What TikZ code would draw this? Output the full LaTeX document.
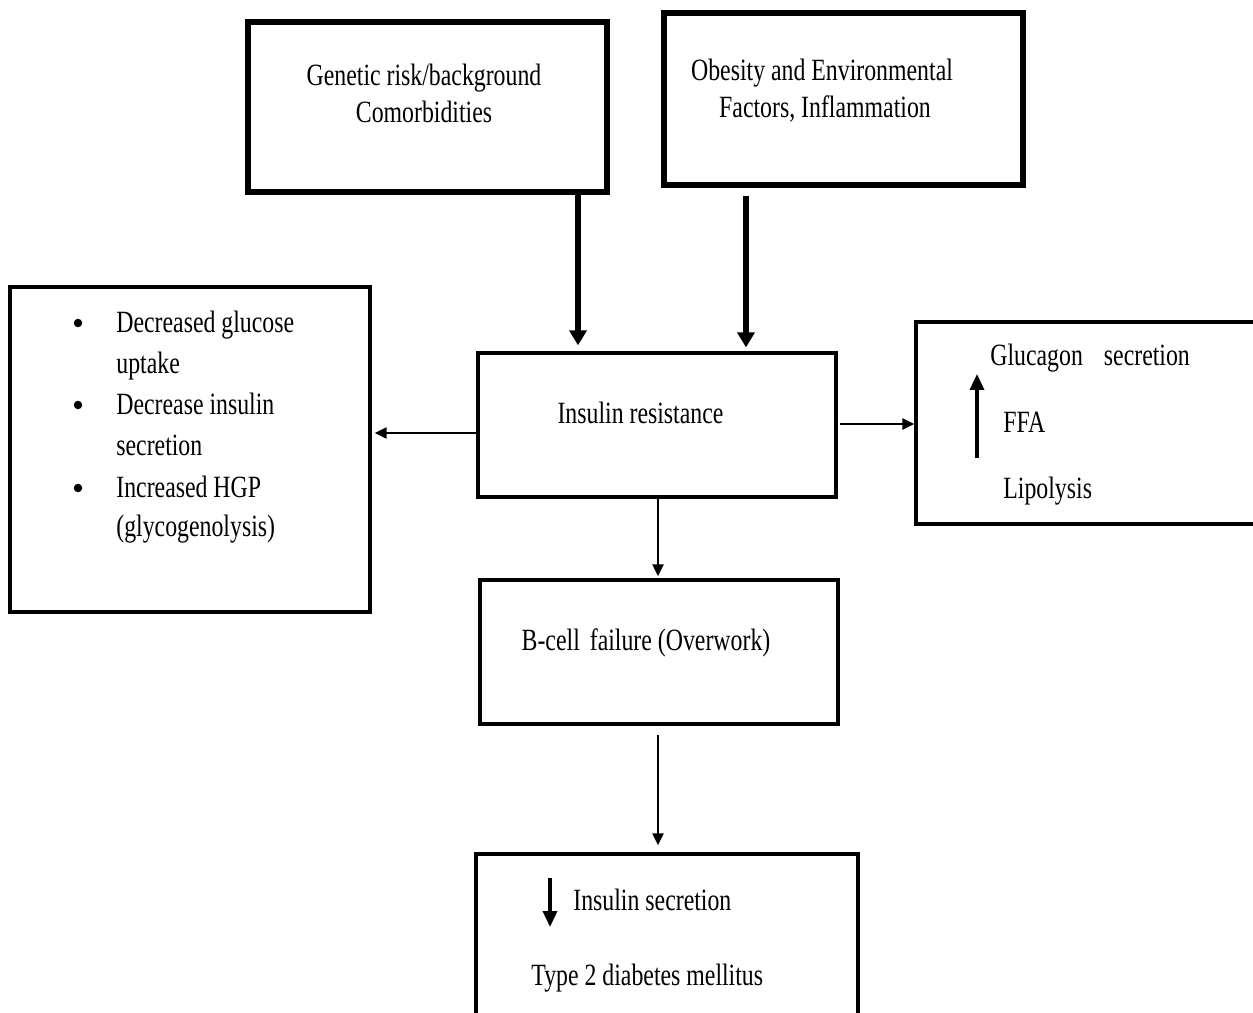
\documentclass[tikz,border=0pt]{standalone}
\usepackage{fontspec}
\setmainfont{Liberation Serif}[FakeStretch=0.77]
\usetikzlibrary{arrows.meta}
\begin{document}
\begin{tikzpicture}[x=0.02cm,y=-0.02cm,
  thickbox/.style={draw, rectangle, inner sep=0pt, line width=2.9pt},
  thinbox/.style={draw, rectangle, inner sep=0pt, line width=1.9pt},
  txt/.style={inner sep=0pt, font=\fontsize{17.6}{21}\selectfont, text=black},
  bul/.style={circle, fill=black, inner sep=0pt, minimum size=0.17cm},
  bigarrow/.style={line width=3.4pt, -{Triangle[length=0.3cm,width=0.34cm]}},
  thinarrow/.style={line width=1.2pt, -{Triangle[length=0.24cm,width=0.22cm]}},
  midarrow/.style={line width=2pt, -{Triangle[length=0.32cm,width=0.28cm]}}
]
\clip (0,0) rectangle (1253,1013);
\fill[white] (0,0) rectangle (1253,1013);

% boxes
\node[thickbox, minimum width=7.18cm, minimum height=3.40cm] (gen) at (427.5,107) {};
\node[thickbox, minimum width=7.18cm, minimum height=3.44cm] (obe) at (843.5,99) {};
\node[thinbox, minimum width=7.20cm, minimum height=6.50cm] (left) at (190,449.5) {};
\node[thinbox, minimum width=7.16cm, minimum height=2.88cm] (ir) at (657,425) {};
\node[thinbox, minimum width=7.08cm, minimum height=4.04cm] (right) at (1093,423) {};
\node[thinbox, minimum width=7.16cm, minimum height=2.88cm] (bc) at (659,652) {};
\node[thinbox, minimum width=7.64cm, minimum height=3.72cm] (t2) at (667,947) {};

% texts
\node[txt, anchor=base] (gen1) at (424,86) {Genetic risk/background};
\node[txt, anchor=base] (gen2) at (424,123) {Comorbidities};
\node[txt, anchor=base] (obe1) at (822,81) {Obesity and Environmental};
\node[txt, anchor=base] (obe2) at (825,118) {Factors, Inflammation};

\node[bul] (b1) at (78,323) {};
\node[txt, anchor=base west] (l1) at (116,332) {Decreased glucose};
\node[txt, anchor=base west] (l2) at (116,373) {uptake};
\node[bul] (b2) at (78,405) {};
\node[txt, anchor=base west] (l3) at (116,414) {Decrease insulin};
\node[txt, anchor=base west] (l4) at (116,455) {secretion};
\node[bul] (b3) at (78,488) {};
\node[txt, anchor=base west] (l5) at (116,497) {Increased HGP};
\node[txt, anchor=base west] (l6) at (116,536) {(glycogenolysis)};

\node[txt, anchor=base] (irt) at (640.5,423) {Insulin resistance};

\node[txt, anchor=base west] (r1) at (990,365) {Glucagon\hspace{0.42cm}secretion};
\node[txt, anchor=base west] (r2) at (1003,432) {FFA};
\node[txt, anchor=base west] (r3) at (1003,498) {Lipolysis};
\coordinate (upS) at (977,458);
\coordinate (upE) at (977,374);
\draw[midarrow] (upS) -- (upE);

\node[txt, anchor=base] (bct) at (646,650) {B-cell\hspace{0.2cm}failure (Overwork)};

\node[txt, anchor=base west] (t21) at (573,910) {Insulin secretion};
\node[txt, anchor=base west] (t22) at (531,985) {Type 2 diabetes mellitus};
\coordinate (dnS) at (550,878);
\coordinate (dnE) at (550,927);
\draw[midarrow] (dnS) -- (dnE);

% connectors
\coordinate (ax1) at (578,0);
\coordinate (ax2) at (746,0);
\coordinate (yL) at (0,433);
\coordinate (yR) at (0,424);
\coordinate (xB) at (658,0);
\draw[bigarrow, shorten >=0.12cm] (gen.south -| ax1) -- (ir.north -| ax1);
\draw[bigarrow, shorten <=0.16cm, shorten >=0.08cm] (obe.south -| ax2) -- (ir.north -| ax2);
\draw[thinarrow, shorten >=0.06cm] (ir.west |- yL) -- (left.east |- yL);
\draw[thinarrow, shorten <=0.04cm] (ir.east |- yR) -- (right.west |- yR);
\draw[thinarrow, shorten >=0.04cm] (ir.south -| xB) -- (bc.north -| xB);
\draw[thinarrow, shorten <=0.18cm, shorten >=0.14cm] (bc.south -| xB) -- (t2.north -| xB);
\end{tikzpicture}
\end{document}
